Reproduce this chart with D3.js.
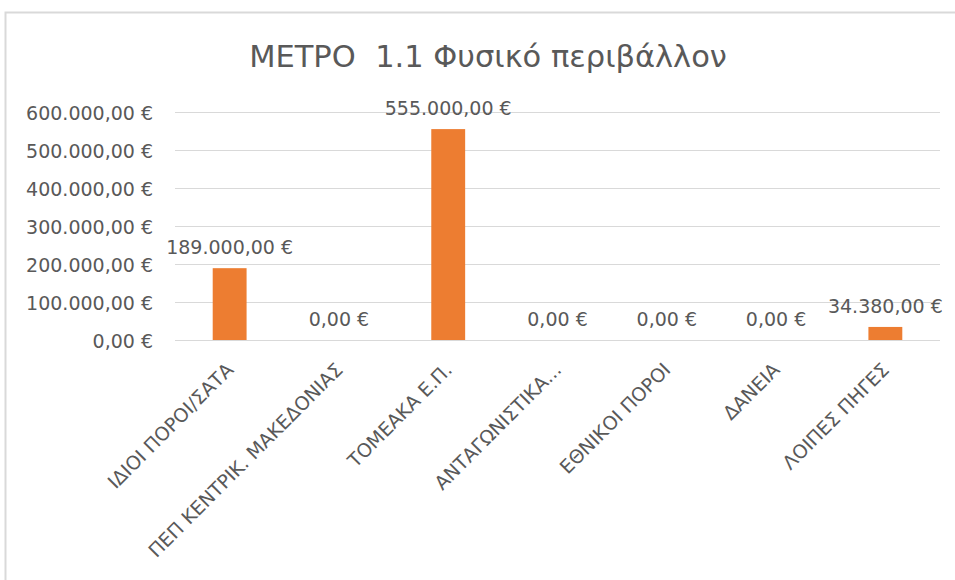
<!DOCTYPE html>
<html>
<head>
<meta charset="utf-8">
<script src="https://cdn.jsdelivr.net/npm/d3@7"></script>
<style>
  body { margin: 0; background: #fff; }
  svg text { font-family: "DejaVu Sans", sans-serif; fill: #595959; }
</style>
</head>
<body>
<div id="chart"></div>
<script>
const title = "ΜΕΤΡΟ  1.1 Φυσικό περιβάλλον"
const categories = ["ΙΔΙΟΙ ΠΟΡΟΙ/ΣΑΤΑ", "ΠΕΠ ΚΕΝΤΡΙΚ. ΜΑΚΕΔΟΝΙΑΣ", "ΤΟΜΕΑΚΑ Ε.Π.", "ΑΝΤΑΓΩΝΙΣΤΙΚΑ...", "ΕΘΝΙΚΟΙ ΠΟΡΟΙ", "ΔΑΝΕΙΑ", "ΛΟΙΠΕΣ ΠΗΓΕΣ"]
const values = [189000, 0, 555000, 0, 0, 0, 34380]
const yTicks = [0, 100000, 200000, 300000, 400000, 500000, 600000]

const width = 955, height = 580
const margin = {left: 175, right: 15, top: 112, bottom: 240}

// euro formatting like 189.000,00 €
const locale = d3.formatLocale({decimal: ",", thousands: ".", grouping: [3], currency: ["", " €"]})
const fmt = locale.format("$,.2f")

const svg = d3.select("#chart").append("svg")
    .attr("width", width)
    .attr("height", height)

// chart frame
svg.append("rect")
    .attr("x", 5.5).attr("y", 12.5)
    .attr("width", width + 10).attr("height", height)
    .attr("fill", "none")
    .attr("stroke", "#d9d9d9")
    .attr("stroke-width", 2)

const x = d3.scaleBand()
    .domain(categories)
    .range([margin.left, width - margin.right])
    .paddingInner(0.69)
    .paddingOuter(0.345)

const y = d3.scaleLinear()
    .domain([0, 600000])
    .range([height - margin.bottom, margin.top])

svg.append("text")
    .attr("x", 488)
    .attr("y", 67)
    .attr("text-anchor", "middle")
    .attr("xml:space", "preserve")
    .style("white-space", "pre")
    .style("font-size", "30.5px")
    .text(title)

// gridlines
svg.append("g")
    .selectAll("line")
    .data(yTicks)
    .enter()
    .append("line")
        .attr("x1", margin.left)
        .attr("x2", width - margin.right)
        .attr("y1", d => Math.round(y(d)) + 0.5)
        .attr("y2", d => Math.round(y(d)) + 0.5)
        .attr("stroke", "#d9d9d9")
        .attr("stroke-width", 1.2)

// y labels
svg.append("g")
    .selectAll("text")
    .data(yTicks)
    .enter()
    .append("text")
        .attr("x", 153)
        .attr("y", d => y(d) + 8)
        .attr("text-anchor", "end")
        .style("font-size", "19px")
        .text(d => fmt(d))

// bars
svg.append("g")
    .selectAll("rect")
    .data(values)
    .enter()
    .append("rect")
        .attr("x", (d, i) => x(categories[i]))
        .attr("y", d => y(d))
        .attr("width", x.bandwidth())
        .attr("height", d => y(0) - y(d))
        .attr("fill", "#ed7d31")

// value labels
svg.append("g")
    .selectAll("text")
    .data(values)
    .enter()
    .append("text")
        .attr("x", (d, i) => x(categories[i]) + x.bandwidth() / 2)
        .attr("y", d => y(d) - 14)
        .attr("text-anchor", "middle")
        .style("font-size", "19px")
        .text(d => fmt(d))

// category labels, rotated
svg.append("g")
    .selectAll("text")
    .data(categories)
    .enter()
    .append("text")
        .attr("transform", d => "translate(" + (x(d) + x.bandwidth() / 2 + 5) + "," + (y(0) + 31) + ") rotate(-45)")
        .attr("text-anchor", "end")
        .style("font-size", "19px")
        .text(d => d)
</script>
</body>
</html>
